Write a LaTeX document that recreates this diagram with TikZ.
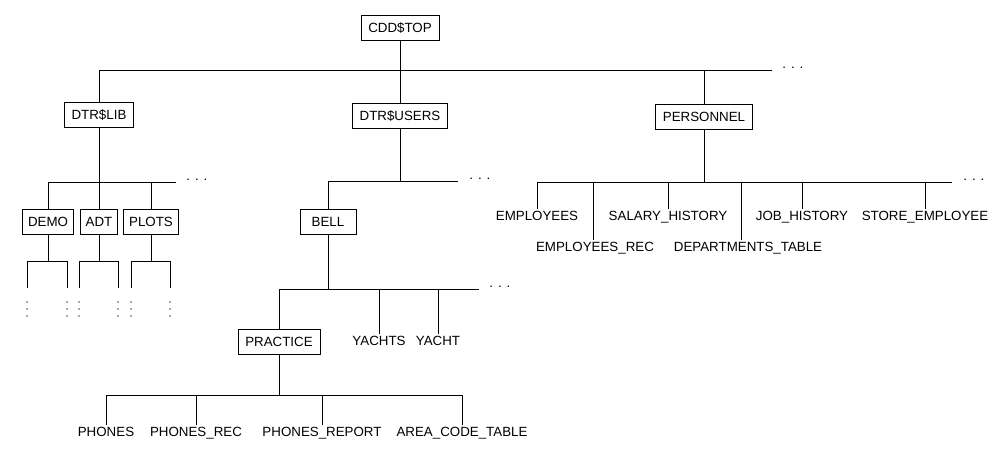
\documentclass[tikz,border=0pt]{standalone}
\usepackage{fontspec}
\setmainfont{Liberation Sans}
\begin{document}
\begin{tikzpicture}[x=0.75pt,y=-0.75pt,line width=0.6pt,
  box/.style={draw,fill=white,font=\fontsize{10}{12}\selectfont,minimum height=19pt,inner xsep=5.5pt,inner ysep=2pt},
  leaf/.style={font=\fontsize{10}{12}\selectfont,inner sep=1.5pt,anchor=north},
  dots/.style={font=\fontsize{10}{12}\selectfont,inner sep=0pt,anchor=west}]
\useasboundingbox (0,0) rectangle (1004,457);
% top
\node[box] (top) at (400,28) {CDD\$TOP};
\coordinate (h1l) at (99,70); \coordinate (h1r) at (772,70);
\node[dots] (d1) at (782,68) {. . .};
\draw (top.south) -- (400,70);
\draw (h1l) -- (h1r);
\node[box] (lib) at (99,115) {DTR\$LIB};
\node[box] (usr) at (400,116) {DTR\$USERS};
\node[box] (per) at (704,117) {PERSONNEL};
\draw (h1l) -- (lib.north);
\draw (400,70) -- (usr.north);
\draw (704,70) -- (per.north);
% DTR$LIB
\draw (lib.south) -- (99,182);
\coordinate (h2l) at (48,182); \coordinate (h2r) at (176,182);
\draw (h2l) -- (h2r);
\node[dots] (d2) at (186,180) {. . .};
\node[box,inner xsep=4pt] (demo) at (48,222) {DEMO};
\node[box,inner xsep=4pt] (adt) at (99,222) {ADT};
\node[box,inner xsep=4pt] (plots) at (151,222) {PLOTS};
\draw (h2l) -- (demo.north);
\draw (99,182) -- (adt.north);
\draw (151,182) -- (plots.north);
\foreach \n/\c/\a/\b in {demo/48/27/67, adt/99/79/118, plots/151/131/170}{
  \draw (\n.south) -- (\c,261);
  \draw (\a,288) -- (\a,261) -- (\b,261) -- (\b,288);
  \foreach \xx in {\a,\b}{
    \foreach \yy in {302,309,316}{
      \fill[black!70] (\xx,\yy) circle (0.6pt);
    }
  }
}
% DTR$USERS
\draw (usr.south) -- (400,181);
\coordinate (h3l) at (328,181); \coordinate (h3r) at (458,181);
\draw (h3l) -- (h3r);
\node[dots] (d3) at (469,179) {. . .};
\node[box,minimum width=42pt] (bell) at (328,222) {BELL};
\draw (h3l) -- (bell.north);
\draw (bell.south) -- (328,289);
\coordinate (h4l) at (279,289); \coordinate (h4r) at (479,289);
\draw (h4l) -- (h4r);
\node[dots] (d4) at (489,287) {. . .};
\node[box] (prac) at (279,342) {PRACTICE};
\node[leaf] (yachts) at (379,334) {YACHTS};
\node[leaf] (yacht) at (438,334) {YACHT};
\draw (h4l) -- (prac.north);
\draw (379,289) -- (yachts.north);
\draw (438,289) -- (yacht.north);
\draw (prac.south) -- (279,395);
\coordinate (h5l) at (106,395); \coordinate (h5r) at (462,395);
\draw (h5l) -- (h5r);
\node[leaf] (ph) at (106,425) {PHONES};
\node[leaf] (phr) at (196,425) {PHONES\_REC};
\node[leaf] (phrep) at (322,425) {PHONES\_REPORT};
\node[leaf] (act) at (462,425) {AREA\_CODE\_TABLE};
\draw (h5l) -- (ph.north);
\draw (196,395) -- (phr.north);
\draw (322,395) -- (phrep.north);
\draw (h5r) -- (act.north);
% PERSONNEL
\draw (per.south) -- (704,182);
\coordinate (h6l) at (537,182); \coordinate (h6r) at (952,182);
\draw (h6l) -- (h6r);
\node[dots] (d6) at (963,180) {. . .};
\node[leaf] (emp) at (537,209) {EMPLOYEES};
\node[leaf] (empr) at (595,240) {EMPLOYEES\_REC};
\node[leaf] (sal) at (668,209) {SALARY\_HISTORY};
\node[leaf] (dep) at (748,240) {DEPARTMENTS\_TABLE};
\node[leaf] (job) at (802,209) {JOB\_HISTORY};
\node[leaf] (store) at (925,209) {STORE\_EMPLOYEE};
\draw (h6l) -- (emp.north);
\draw (593,182) -- (593,240);
\draw (668,182) -- (sal.north);
\draw (741,182) -- (741,240);
\draw (802,182) -- (job.north);
\draw (925,182) -- (store.north);
\end{tikzpicture}
\end{document}
